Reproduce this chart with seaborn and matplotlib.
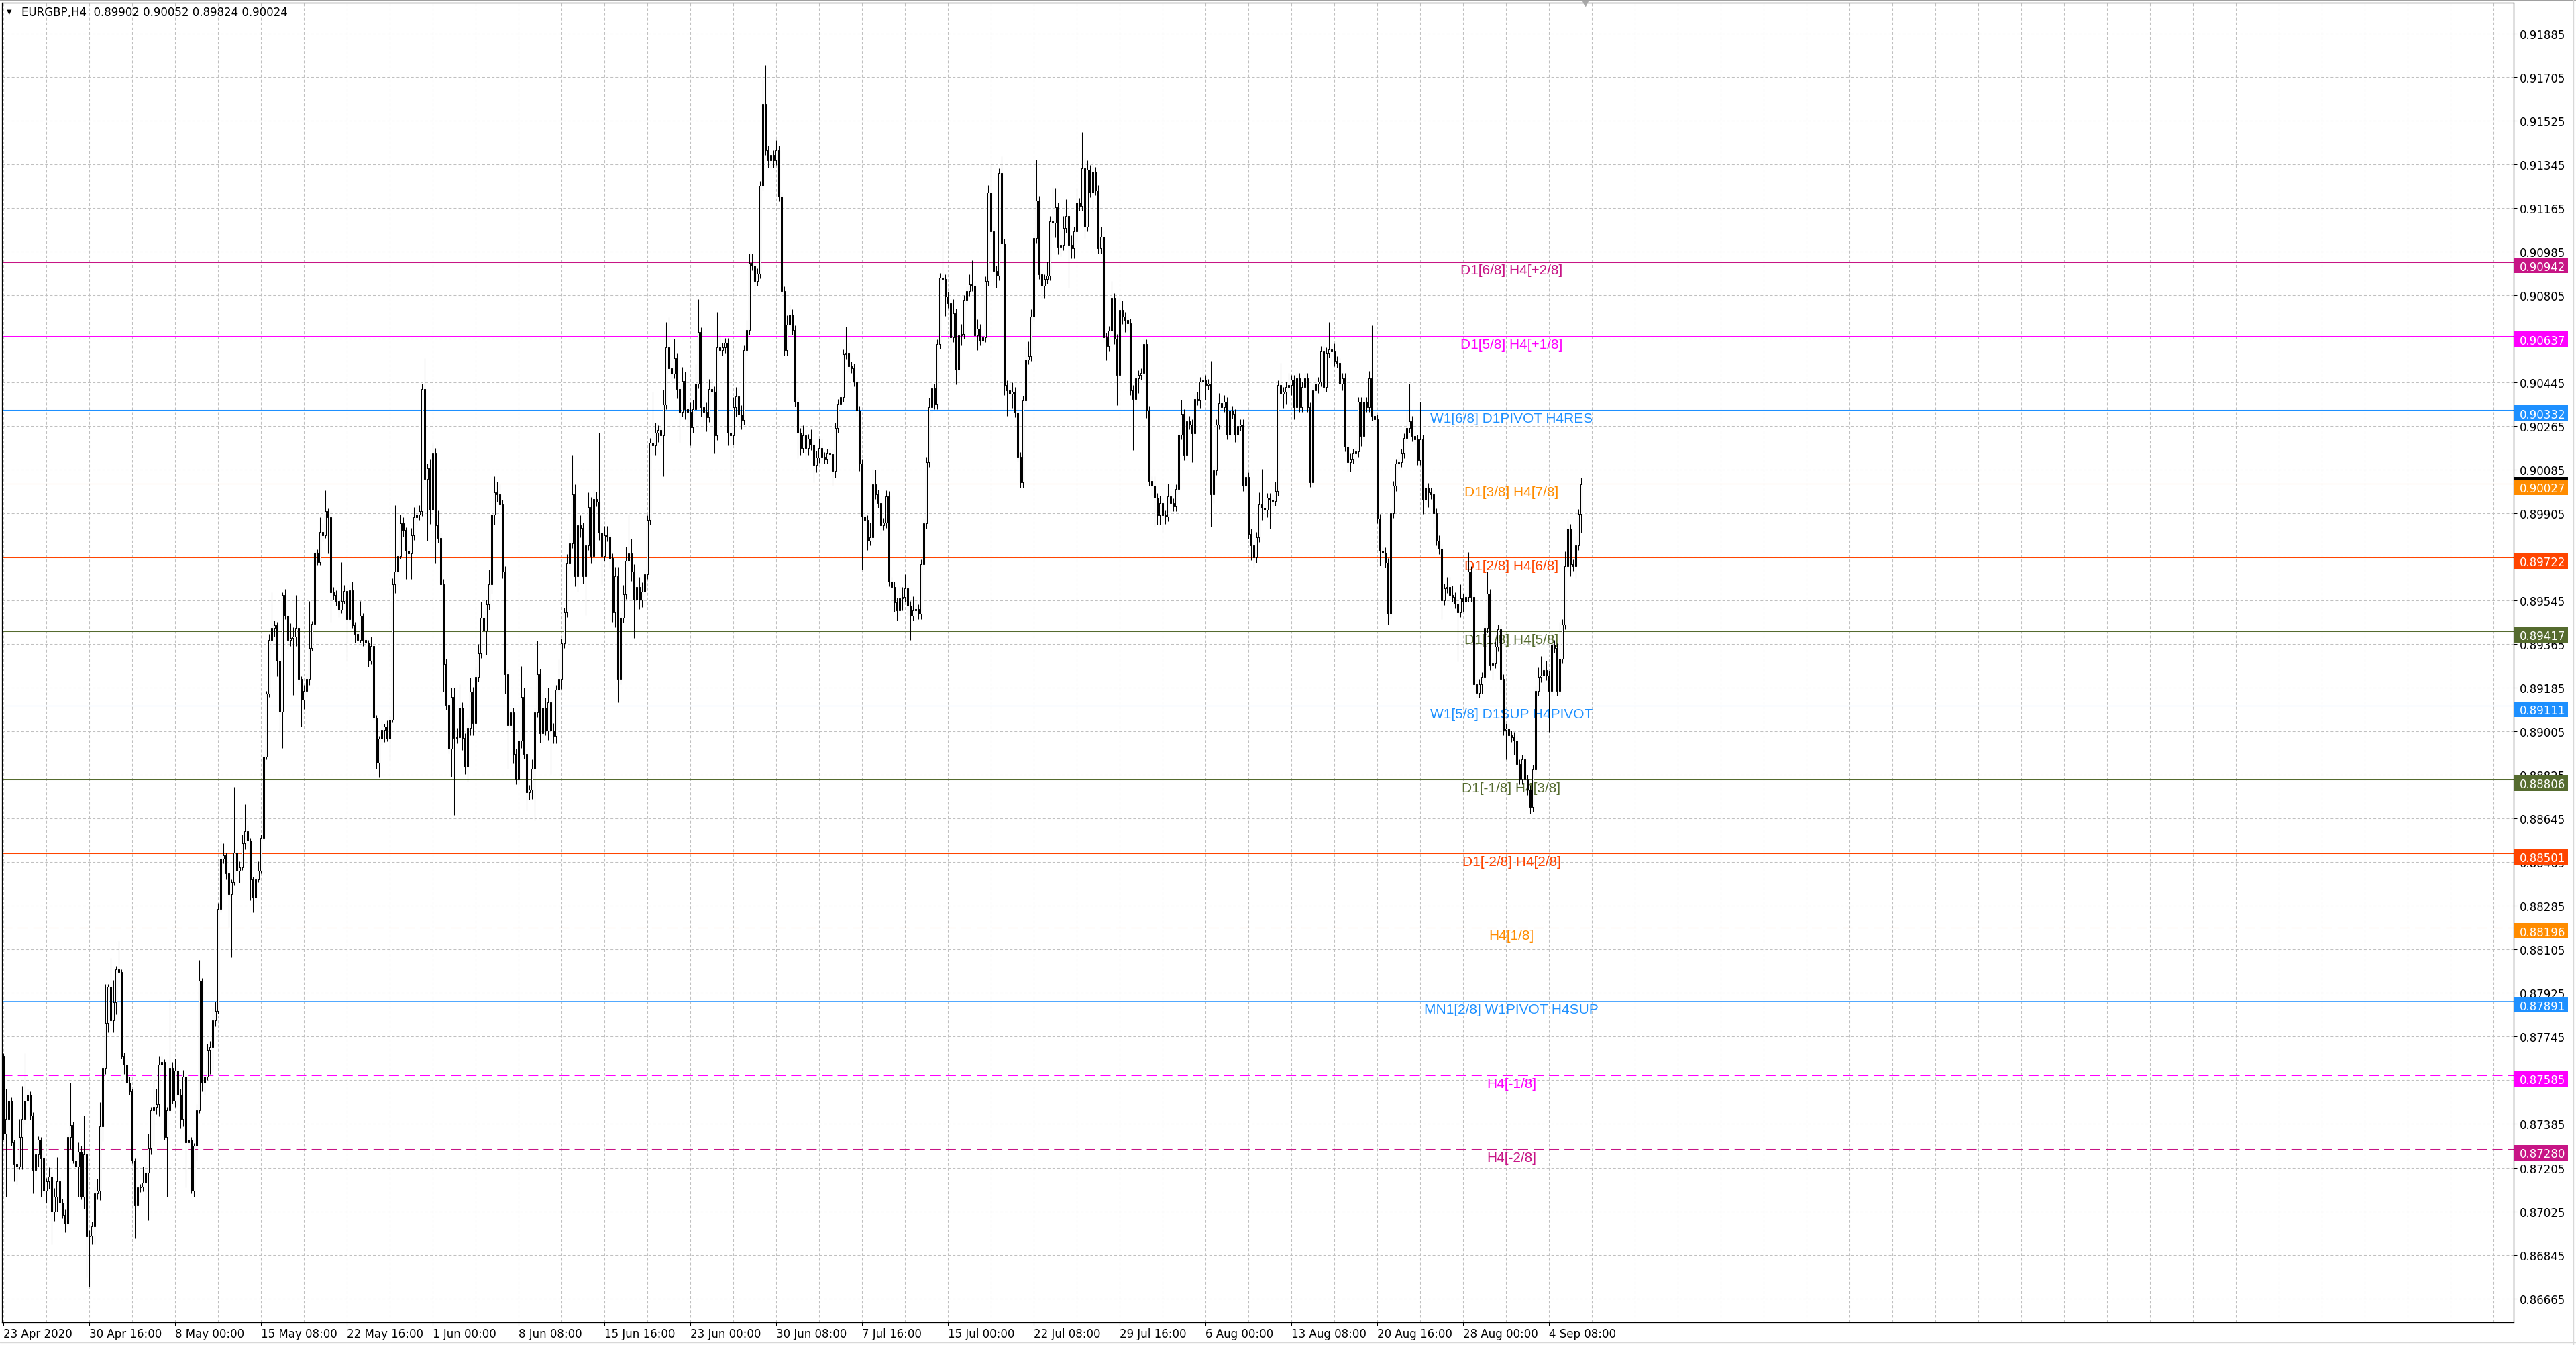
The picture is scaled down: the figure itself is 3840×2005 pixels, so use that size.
import numpy as np
import pandas as pd
import seaborn as sns
import matplotlib
matplotlib.use("Agg")
import matplotlib.pyplot as plt
from matplotlib.patches import Rectangle
from matplotlib.lines import Line2D
import matplotlib.transforms as mtransforms

# ---------------- data (prices = 0.86 + value * 1e-5) ----------------
PRICE_BASE = 0.86
PRICE_UNIT = 1e-5
first_open = 1666

closes = [
    1345,1406,1481,1308,1221,1209,1332,1406,1481,1505,
    1419,1196,1258,1320,1246,1110,1147,1167,1024,1085,
    1147,1061,1011,974,1332,1382,1234,1209,1271,1085,
    1258,920,925,962,1098,1110,1374,1616,1802,1950,
    1814,1888,2024,2012,1666,1629,1555,1518,1234,1048,
    1122,1127,1142,1184,1283,1443,1456,1468,1629,1641,
    1332,1443,1616,1481,1604,1505,1406,1579,1308,1320,
    1110,1295,1443,1975,1555,1579,1690,1703,1814,1851,
    2271,2481,2493,2419,2333,2382,2506,2431,2444,2543,
    2592,2555,2394,2320,2394,2431,2567,2901,3160,3382,
    3432,3444,3296,3086,3568,3481,3382,3390,3395,3432,
    3222,3135,3172,3222,3350,3449,3741,3704,3827,3815,
    3913,3889,3580,3568,3543,3506,3543,3585,3469,3587,
    3444,3407,3382,3481,3382,3370,3296,3358,3061,2876,
    2975,3012,3024,2975,3054,3612,3666,3728,3864,3835,
    3751,3740,3814,3888,3899,3914,4418,4047,4090,3920,
    4153,3857,3804,3613,3284,3115,2934,3146,2977,2981,
    3104,2977,2860,3019,3168,3040,3231,3327,3475,3422,
    3528,3613,3899,3990,3984,3941,3666,3242,3030,3083,
    2913,2807,2966,3146,2913,2754,2765,2850,3083,3242,
    2998,3104,3009,3125,3009,2987,3178,3221,3369,3496,
    3698,3782,3984,3645,3857,3846,3645,3772,3931,3729,
    3963,3952,3825,3729,3814,3808,3719,3496,3645,3221,
    3475,3570,3708,3740,3666,3549,3602,3549,3581,3655,
    3878,4196,4185,4238,4249,4228,4355,4588,4503,4482,
    4546,4418,4323,4450,4334,4323,4259,4334,4440,4652,
    4344,4323,4302,4418,4408,4228,4588,4577,4588,4609,
    4238,4228,4344,4387,4312,4291,4577,4662,4938,4927,
    4864,4895,5256,5595,5404,5362,5383,5362,5404,5213,
    4821,4577,4683,4726,4662,4365,4238,4175,4228,4173,
    4212,4187,4105,4134,4173,4138,4131,4152,4148,4081,
    4258,4356,4385,4561,4568,4511,4504,4448,4328,4110,
    3891,3877,3792,3806,4025,3983,3947,3856,3866,3976,
    3623,3602,3538,3503,3553,3560,3595,3524,3482,3503,
    3510,3489,3694,3863,4117,4342,4420,4356,4603,4878,
    4871,4800,4772,4631,4730,4497,4638,4645,4786,4822,
    4850,4843,4638,4666,4617,4631,4864,5230,5068,4906,
    4885,5308,5019,4434,4413,4399,4406,4321,4138,4032,
    4370,4540,4554,4716,5040,5195,4892,4843,4871,4885,
    5111,5104,5167,5005,5012,5082,5132,5012,4998,5068,
    5188,5174,5329,5089,5322,5230,5315,5238,4998,5047,
    4631,4596,4659,4793,4624,4476,4744,4716,4702,4688,
    4413,4377,4462,4476,4483,4603,4328,4039,4018,3969,
    3898,3947,3898,3891,3976,3947,3933,4004,4229,4314,
    4145,4286,4272,4236,4377,4370,4448,4455,4434,4440,
    3983,4082,4272,4360,4343,4364,4230,4329,4315,4230,
    4265,4272,4018,4054,3821,3772,3722,3807,3941,3927,
    3920,3969,3962,3955,3997,4434,4399,4406,4427,4434,
    4456,4343,4463,4343,4427,4463,4343,4033,4413,4441,
    4448,4575,4427,4568,4582,4575,4533,4526,4441,4463,
    4181,4117,4131,4152,4159,4364,4223,4364,4343,4463,
    4307,4293,3884,3750,3743,3701,3490,3906,4018,4110,
    4117,4152,4216,4258,4286,4223,4209,4124,4209,3962,
    4011,3990,3983,3906,3793,3758,3546,3595,3602,3567,
    3560,3532,3497,3553,3539,3560,3666,3560,3201,3165,
    3201,3229,3433,3574,3278,3285,3356,3426,3222,3010,
    3017,2989,2982,2968,2869,2806,2890,2806,2764,2693,
    2848,3172,3229,3236,3257,3236,3172,3363,3349,3172,
    3306,3447,3687,3842,3694,3687,3772,3902,4024,
]

upper_wicks = [
    12,124,49,12,12,10,74,136,197,25,
    15,15,50,15,10,30,15,40,20,35,
    100,20,15,20,12,173,12,25,37,25,
    161,25,20,20,25,50,100,12,160,12,
    120,90,12,116,12,15,25,25,12,12,
    86,10,67,37,62,12,111,62,37,25,
    12,12,284,25,50,25,25,30,12,20,
    12,12,25,86,12,25,25,25,50,40,
    25,74,50,12,12,12,271,12,25,37,
    111,25,12,12,20,37,12,12,12,25,
    148,20,12,12,12,25,25,62,40,136,
    12,12,25,25,193,12,12,15,62,37,
    87,12,25,20,20,12,161,25,12,25,
    37,12,12,62,12,12,12,37,12,12,
    12,37,12,25,12,25,272,25,37,25,
    12,20,30,42,40,25,22,128,20,40,
    40,20,60,20,20,20,20,40,40,40,
    95,20,20,40,60,20,40,40,64,25,
    20,60,20,68,45,40,20,20,20,20,
    20,20,40,127,40,20,20,40,20,138,
    20,60,40,60,20,30,20,80,20,20,
    40,40,159,40,40,40,20,40,60,40,
    40,30,286,40,40,40,20,20,40,40,
    20,40,60,159,60,30,40,40,40,20,
    20,20,212,40,20,20,60,106,127,40,
    80,20,20,60,40,20,40,40,80,137,
    20,40,40,40,40,20,148,60,20,20,
    20,20,40,40,40,40,20,40,40,40,
    20,20,20,95,159,20,20,20,40,20,
    20,20,40,40,20,20,20,20,40,20,
    20,40,20,30,40,40,20,20,20,20,
    20,20,20,20,106,40,20,20,20,20,
    20,20,20,60,60,60,20,20,20,25,
    20,20,20,20,50,40,60,20,20,60,
    20,20,20,20,20,40,40,20,20,20,
    247,20,20,20,60,20,20,40,20,20,
    40,98,20,40,20,20,20,30,113,20,
    20,20,71,20,20,40,40,20,20,20,
    20,50,60,30,20,169,20,20,20,60,
    20,140,80,20,60,50,70,20,40,20,
    60,20,148,40,40,20,40,20,20,40,
    20,20,20,70,20,20,50,40,20,20,
    20,20,20,20,20,20,20,20,20,40,
    20,30,20,20,50,20,20,20,20,60,
    20,20,20,20,20,30,20,140,20,20,
    93,20,20,40,20,30,20,20,20,20,
    20,20,20,20,20,20,20,20,50,148,
    40,20,20,20,40,20,92,20,20,50,
    20,20,20,20,20,20,20,20,20,20,
    20,20,20,20,113,20,30,20,20,20,
    20,20,20,20,20,20,20,20,20,30,
    218,20,20,20,20,20,20,20,20,20,
    20,20,20,70,155,20,20,20,155,20,
    20,20,20,20,20,20,20,20,40,40,
    40,20,20,60,20,20,78,20,20,20,
    20,20,20,92,20,20,20,20,20,20,
    20,20,20,20,20,20,20,20,20,20,
    20,20,40,80,20,40,20,60,20,20,
    150,20,60,40,20,20,40,20,28,
]

lower_wicks = [
    25,260,86,13,74,74,12,135,20,20,
    15,98,40,50,161,15,50,30,136,40,
    60,15,15,37,12,50,12,12,124,12,
    49,168,205,37,74,25,40,60,25,40,
    12,50,50,60,12,37,12,12,12,136,
    12,17,20,62,197,25,148,30,50,25,
    12,247,12,12,25,40,40,30,186,20,
    12,25,62,12,37,50,12,99,100,25,
    12,12,20,25,136,260,12,25,50,12,
    25,30,86,61,20,12,12,12,12,12,
    37,37,62,87,148,12,37,24,234,37,
    25,111,37,25,25,12,25,12,12,25,
    12,150,123,20,20,30,12,12,173,12,
    12,37,37,12,25,12,25,12,12,25,
    62,25,50,12,87,12,37,62,12,25,
    117,20,106,20,30,20,20,40,254,60,
    30,159,20,20,116,20,20,116,318,20,
    20,50,30,63,30,50,20,20,20,40,
    100,20,40,40,30,20,30,80,180,20,
    40,20,20,30,20,74,30,40,212,20,
    40,40,20,40,181,30,30,20,40,20,
    20,30,20,40,64,40,30,159,20,30,
    20,20,30,116,20,20,40,40,60,96,
    20,20,20,20,40,159,20,40,30,20,
    20,20,40,40,40,40,170,20,20,40,
    20,40,127,20,40,50,74,20,20,20,
    40,40,60,20,20,75,20,20,20,20,
    53,212,40,40,40,40,20,20,20,20,
    40,20,20,20,20,30,30,30,20,20,
    20,20,20,20,20,20,106,30,20,40,
    30,20,73,30,20,30,20,20,20,63,
    30,20,20,20,20,20,20,20,20,30,
    219,20,40,20,20,20,20,40,20,20,
    20,60,40,40,20,50,20,40,99,20,
    40,20,20,20,20,20,20,20,20,20,
    20,80,20,60,20,60,20,40,20,20,
    20,20,20,60,20,20,20,20,20,60,
    50,20,20,40,106,20,60,20,20,21,
    20,20,20,20,20,20,20,50,50,20,
    20,60,60,30,40,20,20,176,40,40,
    40,20,20,49,20,20,80,20,20,20,
    20,60,20,20,20,125,20,30,50,30,
    20,211,20,60,20,20,30,20,40,120,
    40,40,70,30,20,40,20,20,20,20,
    20,20,20,120,20,20,30,20,60,20,
    134,35,20,20,20,20,20,20,20,30,
    30,20,20,30,20,60,40,20,20,50,
    40,30,120,20,20,20,20,60,50,20,
    40,50,20,20,20,60,20,20,20,50,
    40,20,20,20,20,50,20,20,20,30,
    20,40,40,20,30,20,40,20,20,20,
    20,20,20,60,20,20,43,20,20,20,
    20,20,20,20,20,20,20,20,20,60,
    20,60,20,60,20,20,77,20,20,20,
    20,20,204,20,40,30,20,20,20,20,
    20,40,20,20,20,60,20,20,60,20,
    120,20,20,60,20,20,20,20,20,28,
    20,20,20,20,20,20,170,20,20,20,
    20,20,20,20,50,20,49,20,78,
]

x_tick_labels = [
    "23 Apr 2020", "30 Apr 16:00", "8 May 00:00", "15 May 08:00", "22 May 16:00",
    "1 Jun 00:00", "8 Jun 08:00", "15 Jun 16:00", "23 Jun 00:00", "30 Jun 08:00",
    "7 Jul 16:00", "15 Jul 00:00", "22 Jul 08:00", "29 Jul 16:00", "6 Aug 00:00",
    "13 Aug 08:00", "20 Aug 16:00", "28 Aug 00:00", "4 Sep 08:00",
]
bars_per_label = 32
bars_per_grid = 16

y_ticks = [0.86665, 0.86845, 0.87025, 0.87205, 0.87385, 0.87565, 0.87745, 0.87925,
           0.88105, 0.88285, 0.88465, 0.88645, 0.88825, 0.89005, 0.89185, 0.89365,
           0.89545, 0.89725, 0.89905, 0.90085, 0.90265, 0.90445, 0.90625, 0.90805,
           0.90985, 0.91165, 0.91345, 0.91525, 0.91705, 0.91885]

level_prices = [0.90942, 0.90637, 0.90332, 0.90027, 0.89722, 0.89417, 0.89111,
                0.88806, 0.88501, 0.88196, 0.87891, 0.87585, 0.87280]
level_labels = ["D1[6/8] H4[+2/8]", "D1[5/8] H4[+1/8]", "W1[6/8] D1PIVOT H4RES",
                "D1[3/8] H4[7/8]", "D1[2/8] H4[6/8]", "D1[1/8] H4[5/8]",
                "W1[5/8] D1SUP H4PIVOT", "D1[-1/8] H4[3/8]", "D1[-2/8] H4[2/8]",
                "H4[1/8]", "MN1[2/8] W1PIVOT H4SUP", "H4[-1/8]", "H4[-2/8]"]
level_colors = ["#C71585", "#FF00FF", "#1E90FF", "#FF8C00", "#FF4500", "#556B2F",
                "#1E90FF", "#556B2F", "#FF4500", "#FF8C00", "#1E90FF", "#FF00FF",
                "#C71585"]
level_dashed = [False, False, False, False, False, False, False, False, False,
                True, False, True, True]
level_widths = [0.75] * 10 + [1.1, 0.75, 0.75]

symbol = "EURGBP,H4"
last_ohlc = ["0.89902", "0.90052", "0.89824", "0.90024"]
bid_price = 0.90024

# ---------------- build OHLC table ----------------
n = min(len(closes), len(upper_wicks), len(lower_wicks))
c = PRICE_BASE + np.array(closes[:n]) * PRICE_UNIT
o = np.r_[PRICE_BASE + first_open * PRICE_UNIT, c[:-1]]
hi = np.maximum(o, c) + np.array(upper_wicks[:n]) * PRICE_UNIT
lo = np.minimum(o, c) - np.array(lower_wicks[:n]) * PRICE_UNIT
df = pd.DataFrame({"bar": np.arange(n), "open": o, "high": hi, "low": lo, "close": c})
df["bull"] = df["close"] >= df["open"]

# ---------------- figure ----------------
sns.set_theme(style="white")
plt.rcParams["font.family"] = ["DejaVu Sans"]
plt.rcParams["lines.scale_dashes"] = False

W, H = 3840, 2006
fig = plt.figure(figsize=(W / 100, H / 100), dpi=100)
fig.patch.set_facecolor("white")
AX_L, AX_R, AX_T, AX_B = 3, 3747, 5, 1972
ax = fig.add_axes([AX_L / W, 1 - AX_B / H, (AX_R - AX_L) / W, (AX_B - AX_T) / H])
ax.set_facecolor("white")

Y_MIN, Y_MAX = 0.865669, 0.920123
X_MIN, X_MAX = -0.5, 935.5
ax.set_xlim(X_MIN, X_MAX)
ax.set_ylim(Y_MIN, Y_MAX)

# grid
grid_kw = dict(color="#C0C0C0", lw=0.75, ls=(0, (2.9, 2.2)))
ax.set_yticks(y_ticks)
ax.set_yticklabels([f"{t:.5f}" for t in y_ticks])
ax.set_xticks(np.arange(len(x_tick_labels)) * bars_per_label)
ax.set_xticklabels(x_tick_labels, ha="left")
ax.set_xticks(np.arange(bars_per_grid, X_MAX, bars_per_grid), minor=True)
ax.grid(True, axis="y", which="major", **grid_kw)
ax.grid(True, axis="x", which="both", **grid_kw)
ax.set_axisbelow(True)

ax.yaxis.tick_right()
ax.tick_params(axis="y", which="major", right=True, left=False, length=3.6,
               width=0.75, pad=2.8, labelsize=12, colors="black")
ax.tick_params(axis="x", which="major", bottom=True, length=3.6, width=0.75,
               pad=2.0, labelsize=12, colors="black")
ax.tick_params(axis="x", which="minor", length=0)
ax.tick_params(axis="y", which="minor", length=0)
for sp in ax.spines.values():
    sp.set_color("black")
    sp.set_linewidth(0.9)
    sp.set_visible(True)

# Murrey levels
LABEL_BAR = 562
label_font = ["Liberation Sans", "DejaVu Sans"]
for p, lab, col, dsh, lw in zip(level_prices, level_labels, level_colors, level_dashed, level_widths):
    ls = (0, (10.8, 5.8)) if dsh else "-"
    ax.axhline(p, color=col, lw=lw, ls=ls, zorder=1.5)
    ax.annotate(lab, xy=(LABEL_BAR, p), xytext=(0, -2.0), textcoords="offset points",
                ha="center", va="top", fontsize=15, color=col, zorder=1.6,
                family=label_font)

# candles
ax.vlines(df["bar"], df["low"], df["high"], color="black", lw=0.75, zorder=2)
bull = df[df["bull"]]
bear = df[~df["bull"]]
body_w = 0.62
ax.bar(bull["bar"], bull["close"] - bull["open"], bottom=bull["open"], width=body_w,
       facecolor="white", edgecolor="black", linewidth=0.75, zorder=3)
ax.bar(bear["bar"], bear["open"] - bear["close"], bottom=bear["close"], width=body_w,
       facecolor="black", edgecolor="black", linewidth=0.75, zorder=3)

# price boxes on the right scale
ax_w_px = AX_R - AX_L
ax_h_px = AX_B - AX_T
ppp = ax_h_px / (Y_MAX - Y_MIN)
box_h = 23 / ppp
box_shift = 5 / ppp
trans = mtransforms.blended_transform_factory(ax.transAxes, ax.transData)
ax.add_patch(Rectangle((1 + 1 / ax_w_px, bid_price - box_h / 2), 80 / ax_w_px, box_h,
                       transform=trans, facecolor="black", edgecolor="none",
                       clip_on=False, zorder=9))
for p, col in zip(level_prices, level_colors):
    yc = p - box_shift
    ax.add_patch(Rectangle((1 + 1 / ax_w_px, yc - box_h / 2), 80 / ax_w_px, box_h,
                           transform=trans, facecolor=col, edgecolor="none",
                           clip_on=False, zorder=10))
    ax.text(1 + 9 / ax_w_px, yc, f"{p:.5f}", transform=trans, color="white",
            fontsize=12, ha="left", va="center_baseline", zorder=11, clip_on=False)

# chart shift marker
ax.plot([n + 0.5], [1.0], marker="v", ms=7, color="#A8A8A8", clip_on=False, zorder=12,
        transform=mtransforms.blended_transform_factory(ax.transData, ax.transAxes))

# header
fig.text(10 / W, 1 - 18 / H, "\u25BC", fontsize=7, ha="left", va="center", color="black")
fig.text(32 / W, 1 - 19 / H, symbol + "  " + " ".join(last_ohlc), fontsize=12,
         ha="left", va="center", color="black")

# window borders
fig.add_artist(Line2D([0, 1], [1 - 1 / H, 1 - 1 / H], transform=fig.transFigure,
                      color="#A0A0A0", lw=1.0))
fig.add_artist(Line2D([1 - 4 / W, 1 - 4 / W], [0, 1], transform=fig.transFigure,
                      color="#D8D8D8", lw=1.0))
fig.add_artist(Line2D([0, 1], [4 / H, 4 / H], transform=fig.transFigure,
                      color="#D8D8D8", lw=1.0))

fig.savefig("out.png", dpi=100, facecolor="white")
